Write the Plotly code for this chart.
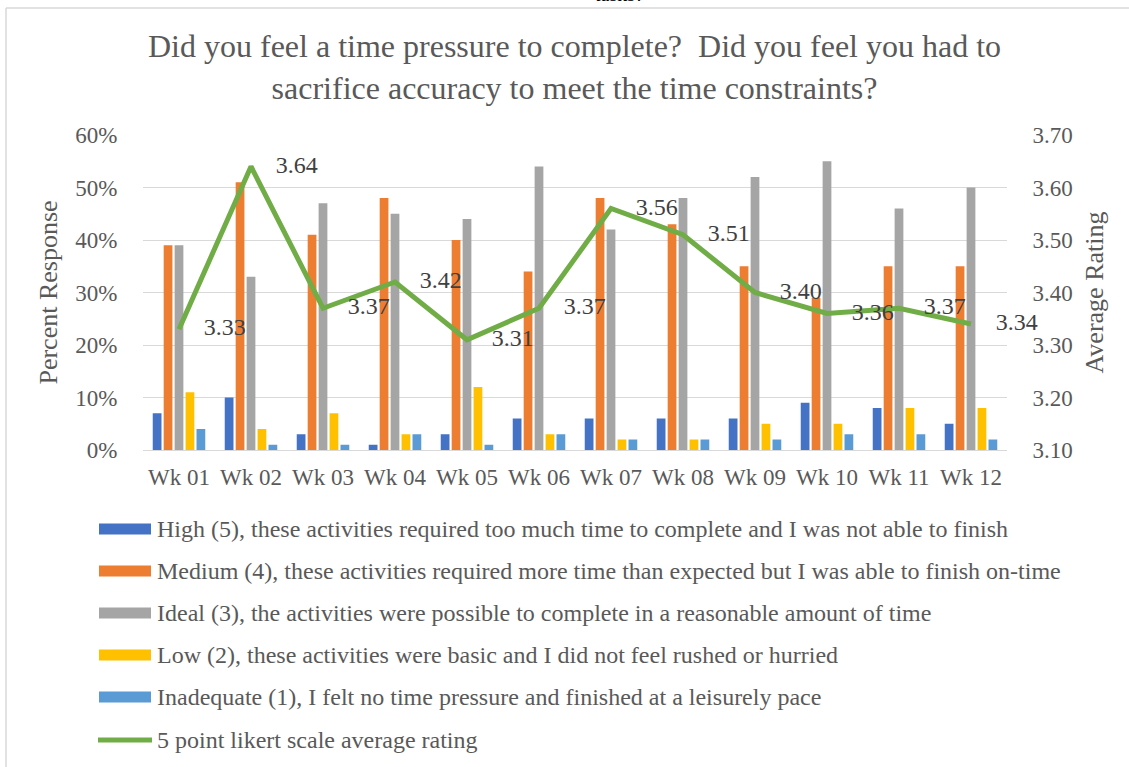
import plotly.graph_objects as go

weeks = ["Wk 01", "Wk 02", "Wk 03", "Wk 04", "Wk 05", "Wk 06",
         "Wk 07", "Wk 08", "Wk 09", "Wk 10", "Wk 11", "Wk 12"]
high = [0.07, 0.10, 0.03, 0.01, 0.03, 0.06, 0.06, 0.06, 0.06, 0.09, 0.08, 0.05]
medium = [0.39, 0.51, 0.41, 0.48, 0.40, 0.34, 0.48, 0.43, 0.35, 0.29, 0.35, 0.35]
ideal = [0.39, 0.33, 0.47, 0.45, 0.44, 0.54, 0.42, 0.48, 0.52, 0.55, 0.46, 0.50]
low = [0.11, 0.04, 0.07, 0.03, 0.12, 0.03, 0.02, 0.02, 0.05, 0.05, 0.08, 0.08]
inadequate = [0.04, 0.01, 0.01, 0.03, 0.01, 0.03, 0.02, 0.02, 0.02, 0.03, 0.03, 0.02]
avg_rating = [3.33, 3.64, 3.37, 3.42, 3.31, 3.37, 3.56, 3.51, 3.40, 3.36, 3.37, 3.34]

series_names = [
    "High (5), these activities required too much time to complete and I was not able to finish",
    "Medium (4), these activities required more time than expected but I was able to finish on-time",
    "Ideal (3), the activities were possible to complete in a reasonable amount of time",
    "Low (2), these activities were basic and I did not feel rushed or hurried",
    "Inadequate (1), I felt no time pressure and finished at a leisurely pace",
]
line_name = "5 point likert scale average rating"
colors = ["#4472C4", "#ED7D31", "#A5A5A5", "#FFC000", "#5B9BD5"]
line_color = "#70AD47"

FONT = "Liberation Serif, Times New Roman, serif"
GRAY = "#595959"

W, H = 1129, 767
L, R, T, B = 143, 1007, 135, 450


def px(x):
    return (x - L) / (R - L)


def py(y):
    return (B - y) / (B - T)


fig = go.Figure()
for name, vals, col in zip(series_names, [high, medium, ideal, low, inadequate], colors):
    fig.add_trace(go.Bar(x=weeks, y=vals, name=name, marker_color=col,
                         marker_line_width=0, showlegend=False, yaxis="y"))

fig.add_trace(go.Scatter(
    x=weeks, y=avg_rating, name=line_name, yaxis="y2",
    mode="lines+markers+text",
    line=dict(color=line_color, width=5),
    marker=dict(size=38, color="rgba(0,0,0,0)"),
    text=[f"{v:.2f}" for v in avg_rating],
    textposition="middle right",
    textfont=dict(family=FONT, size=24, color="#404040"),
    showlegend=False,
    cliponaxis=False,
))

shapes = []
annotations = []

# outer chart border (top and left visible)
shapes.append(dict(type="line", xref="paper", yref="paper",
                   x0=px(6), x1=px(1140), y0=py(8), y1=py(8),
                   line=dict(color="#D9D9D9", width=1.5)))
shapes.append(dict(type="line", xref="paper", yref="paper",
                   x0=px(6), x1=px(6), y0=py(8), y1=py(780),
                   line=dict(color="#D9D9D9", width=1.5)))

# clipped caption text at very top (cut off in the original too)
annotations.append(dict(text="tasks?", xref="paper", yref="paper",
                        x=px(619), y=py(7), xanchor="center", yanchor="bottom",
                        showarrow=False,
                        font=dict(family=FONT, size=20, color="#000000")))

# title
annotations.append(dict(
    text="Did you feel a time pressure to complete?  Did you feel you had to<br>sacrifice accuracy to meet the time constraints?",
    xref="paper", yref="paper", x=px(574), y=py(67), xanchor="center", yanchor="middle",
    showarrow=False, font=dict(family=FONT, size=32, color=GRAY)))

# custom legend
rows = [529, 571, 613, 655, 697, 740]
for i, (name, col) in enumerate(zip(series_names, colors)):
    yc = rows[i]
    shapes.append(dict(type="rect", xref="paper", yref="paper",
                       x0=px(99), x1=px(151), y0=py(yc - 5.5), y1=py(yc + 5.5),
                       fillcolor=col, line=dict(width=0)))
    annotations.append(dict(text=name, xref="paper", yref="paper",
                            x=px(155), y=py(yc), xanchor="left", yanchor="middle",
                            showarrow=False,
                            font=dict(family=FONT, size=24, color=GRAY)))
shapes.append(dict(type="line", xref="paper", yref="paper",
                   x0=px(98), x1=px(152), y0=py(rows[5]), y1=py(rows[5]),
                   line=dict(color=line_color, width=5)))
annotations.append(dict(text=line_name, xref="paper", yref="paper",
                        x=px(155), y=py(rows[5]), xanchor="left", yanchor="middle",
                        showarrow=False, font=dict(family=FONT, size=24, color=GRAY)))

fig.update_layout(
    width=W, height=H, autosize=False,
    margin=dict(l=L, r=W - R, t=T, b=H - B, pad=0),
    paper_bgcolor="white", plot_bgcolor="white",
    barmode="group", bargap=0.24, bargroupgap=0.2,
    font=dict(family=FONT, color=GRAY),
    xaxis=dict(
        type="category", range=[-0.5, len(weeks) - 0.5],
        showgrid=False, showline=True, linecolor="#D9D9D9", linewidth=1,
        tickfont=dict(family=FONT, size=23, color=GRAY),
        ticks="outside", ticklen=6, tickcolor="rgba(0,0,0,0)",
    ),
    yaxis=dict(
        range=[0, 0.6], dtick=0.1, tickformat=".0%",
        showgrid=True, gridcolor="#D9D9D9", gridwidth=1,
        zeroline=True, zerolinecolor="#D9D9D9", zerolinewidth=1,
        tickfont=dict(family=FONT, size=23, color=GRAY),
        ticks="outside", ticklen=20, tickcolor="rgba(0,0,0,0)",
        title=dict(text="Percent Response", font=dict(family=FONT, size=26, color=GRAY),
                   standoff=10),
    ),
    yaxis2=dict(
        range=[3.1, 3.7], dtick=0.1, tickformat=".2f",
        overlaying="y", side="right", showgrid=False, zeroline=False,
        tickfont=dict(family=FONT, size=23, color=GRAY),
        ticks="outside", ticklen=20, tickcolor="rgba(0,0,0,0)",
        title=dict(text="Average Rating", font=dict(family=FONT, size=26, color=GRAY),
                   standoff=12),
    ),
    shapes=shapes,
    annotations=annotations,
)

fig.write_html("out.html", config={"displayModeBar": False},
               post_script="document.body.style.margin='0';document.body.style.overflow='hidden';")
